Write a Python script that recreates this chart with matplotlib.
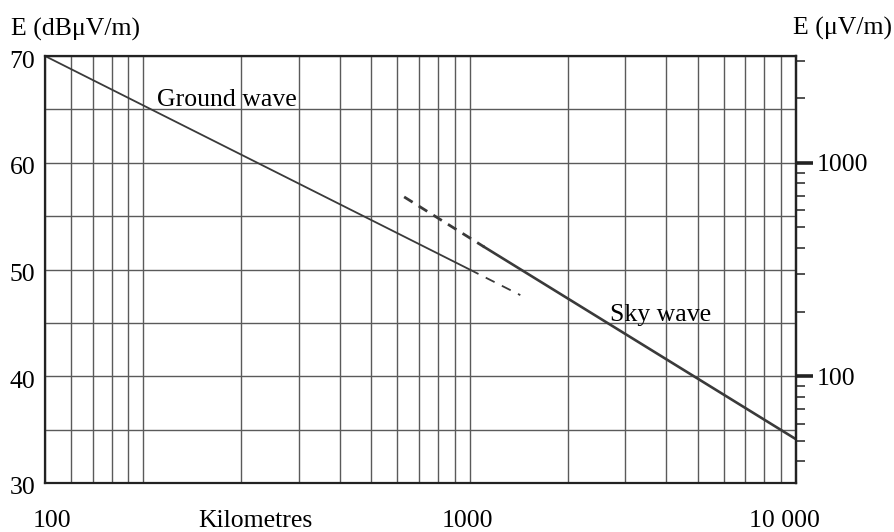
import matplotlib
matplotlib.use('Agg')
import matplotlib.pyplot as plt
import numpy as np
from matplotlib.ticker import LogLocator, MultipleLocator, NullFormatter, FixedLocator
from matplotlib.transforms import ScaledTranslation

plt.rcParams['font.family'] = ['Liberation Serif', 'DejaVu Serif']

# ---- data ----
ground_d = [50, 1000]          # km
ground_e = [70.0, 50.0]        # dBuV/m
ground_ext_d = [1000, 1430]
ground_ext_e = [50.0, 47.6]
sky_dash_d = [630, 1110]
sky_dash_e = [56.8, 52.1]
sky_d = [1110, 10000]
sky_e = [52.1, 34.1]

left_ticks = [30, 40, 50, 60, 70]
right_major = [100, 1000]
right_minor = [40, 50, 60, 70, 80, 90, 200, 300, 400, 500, 600, 700, 800, 900, 2000, 3000]
x_labels = ['100', '1000', '10 000']
x_label_pos = [0.0093, 0.563, 0.985]   # axes fraction, as printed in the figure

FS = 18.5
GRID = '#5a5a5a'
LINE = '#3a3a3a'

fig = plt.figure(figsize=(8.95, 5.32), dpi=100)
ax = fig.add_axes([45/895, 49/532, 751/895, 427/532])
ax.set_xscale('log')
ax.set_xlim(50, 10000)
ax.set_ylim(30, 70)

ax.xaxis.set_major_locator(LogLocator(base=10, subs=np.arange(1, 10)))
ax.xaxis.set_minor_locator(FixedLocator([]))
ax.xaxis.set_major_formatter(NullFormatter())
ax.tick_params(axis='x', which='both', length=0, labelbottom=False)
ax.yaxis.set_major_locator(FixedLocator(left_ticks))
ax.yaxis.set_minor_locator(MultipleLocator(5))
ax.set_yticklabels([str(v) for v in left_ticks])
ax.tick_params(axis='y', which='both', length=0, labelsize=FS, pad=7)
for lbl in ax.get_yticklabels():
    lbl.set_transform(lbl.get_transform() + ScaledTranslation(0, -3/100, fig.dpi_scale_trans))
ax.grid(True, which='major', axis='x', color=GRID, lw=1.0)
ax.grid(True, which='both', axis='y', color=GRID, lw=1.0)
for s in ax.spines.values():
    s.set_color('#222222')
    s.set_linewidth(1.6)

ax.plot(ground_d, ground_e, color=LINE, lw=1.3)
ax.plot(ground_ext_d, ground_ext_e, color=LINE, lw=1.3, dashes=(5.5, 4.5))
ax.plot(sky_dash_d, sky_dash_e, color=LINE, lw=2.0, dashes=(3.6, 2.6))
ax.plot(sky_d, sky_e, color=LINE, lw=1.9)

ax.text(110, 65.3, 'Ground wave', fontsize=FS, ha='left', va='baseline')
ax.text(2690, 45.2, 'Sky wave', fontsize=FS, ha='left', va='baseline')

# right axis in uV/m
def db2uv(db):
    return 10 ** (np.asarray(db) / 20.0)

def uv2db(uv):
    uv = np.asarray(uv, dtype=float)
    with np.errstate(divide='ignore', invalid='ignore'):
        return 20 * np.log10(np.where(uv > 0, uv, 1e-9))

sec = ax.secondary_yaxis('right', functions=(db2uv, uv2db))
sec.yaxis.set_major_locator(FixedLocator(right_major))
sec.yaxis.set_minor_locator(FixedLocator(right_minor))
sec.set_yticks(right_major, labels=[str(v) for v in right_major])
sec.yaxis.set_minor_formatter(NullFormatter())
sec.tick_params(which='major', length=12, width=2.6, labelsize=FS, pad=3, color='#222222')
sec.tick_params(which='minor', length=6.5, width=1.2, color='#333333')
sec.spines['right'].set_linewidth(1.6)

# titles / x labels
fig.text(11/895, 1 - 36/532, 'E (dBμV/m)', fontsize=FS, ha='left', va='baseline')
fig.text(892/895, 1 - 35/532, 'E (μV/m)', fontsize=FS, ha='right', va='baseline')
for lab, pos in zip(x_labels, x_label_pos):
    ax.text(pos, 5/532, lab, transform=ax.get_yaxis_transform().__class__(ax.transAxes, fig.transFigure) if False else
            matplotlib.transforms.blended_transform_factory(ax.transAxes, fig.transFigure),
            fontsize=FS, ha='center', va='baseline')
ax.text(0.28, 5/532, 'Kilometres',
        transform=matplotlib.transforms.blended_transform_factory(ax.transAxes, fig.transFigure),
        fontsize=FS, ha='center', va='baseline')

fig.savefig('out.png', dpi=100)
